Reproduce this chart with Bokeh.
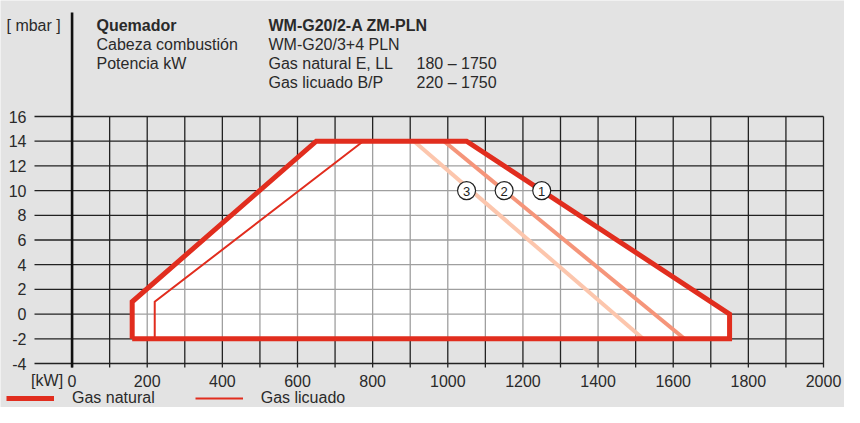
from bokeh.plotting import figure
from bokeh.models import Range1d, Legend, LegendItem
from bokeh.embed import file_html
from bokeh.resources import INLINE
from bokeh.core.properties import value

# ---------------- data ----------------
y_ticks = [-4, -2, 0, 2, 4, 6, 8, 10, 12, 14, 16]
y_tick_labels = ["-4", "-2", "0", "2", "4", "6", "8", "10", "12", "14", "16"]
x_ticks = list(range(0, 2001, 100))
x_label_ticks = [0, 200, 400, 600, 800, 1000, 1200, 1400, 1600, 1800, 2000]
x_tick_labels = ["0", "200", "400", "600", "800", "1000", "1200", "1400", "1600", "1800", "2000"]
x_unit = "[kW]"
y_unit = "[ mbar ]"

# Gas natural working field (thick outline)
nat_x = [160, 160, 650, 1050, 1750, 1750, 160]
nat_y = [-2, 1, 14, 14, 0, -2, -2]
# Gas licuado working field (thin outline, visible part)
lpg_x = [220, 220, 775]
lpg_y = [-2, 1, 14]
# combustion head settings 2 and 3 (setting 1 = right edge of natural outline)
line2_x = [990, 1630]
line2_y = [14, -2]
line3_x = [910, 1520]
line3_y = [14, -2]
marker_x = [1250, 1150, 1050]
marker_y = [10, 10, 10]
marker_text = ["1", "2", "3"]

header_keys = ["Quemador", "Cabeza combustión", "Potencia kW", ""]
header_vals = ["WM-G20/2-A ZM-PLN", "WM-G20/3+4 PLN", "Gas natural E, LL", "Gas licuado B/P"]
header_rngs = ["", "", "180 – 1750", "220 – 1750"]
legend_labels = ["Gas natural", "Gas licuado"]

# ---------------- style / layout ----------------
BG = "#e3e3e3"
RED = "#e12d1e"
SALMON = "#f5957a"
PEACH = "#fcc6ad"
GRID = "#222222"
TXT = "#2a2a2a"
FONT = "Liberation Sans"
FS = "16px"

W, H = 844, 407
GX_L, GX_R = 34, 823        # canvas x of -100 kW and 2000 kW
GY_T, GY_B = 116, 363       # canvas y of 16 mbar and -4 mbar
XMIN, XMAX = -100, 2000
KX = (GX_R - GX_L) / (XMAX - XMIN)
X0 = GX_L - XMIN * KX
KY = (GY_B - GY_T) / (y_ticks[-1] - y_ticks[0])


def dx(cx):
    return (cx - X0) / KX


def dy(cy):
    return y_ticks[0] + (GY_B - cy) / KY


p = figure(width=W, height=H, output_backend="svg", toolbar_location=None,
           x_range=Range1d(dx(0), dx(W)), y_range=Range1d(dy(H), dy(0)),
           x_axis_type=None, y_axis_type=None, min_border=0)
p.background_fill_color = BG
p.border_fill_color = BG
p.outline_line_color = None
p.grid.visible = False

# white field underlay
p.patch(nat_x, nat_y, fill_color="white", line_color=None)

# grid (+ small tick extension below the -4 line)
p.segment(x0=[XMIN] * len(y_ticks), y0=y_ticks, x1=[XMAX] * len(y_ticks), y1=y_ticks,
          line_color=GRID, line_width=1.3)
p.segment(x0=x_ticks, y0=[dy(GY_B + 4)] * len(x_ticks), x1=x_ticks, y1=[y_ticks[-1]] * len(x_ticks),
          line_color=GRID, line_width=1.3)

# veil over the grid inside the field
p.patch(nat_x, nat_y, fill_color="white", fill_alpha=0.57, line_color=None)

# vertical axis line at 0 reaching into the header
p.segment(x0=[0], y0=[dy(GY_B + 4)], x1=[0], y1=[dy(12)], line_color="#111111", line_width=2.6)

# tick labels
p.text(x=[XMIN] * len(y_ticks), y=y_ticks, text=y_tick_labels, x_offset=-8,
       text_align="right", text_baseline="middle", text_font=value(FONT),
       text_font_size=FS, text_color=TXT)
p.text(x=x_label_ticks, y=[y_ticks[0]] * len(x_label_ticks), text=x_tick_labels, y_offset=17,
       text_align="center", text_baseline="middle", text_font=value(FONT),
       text_font_size=FS, text_color=TXT)
p.text(x=[0], y=[y_ticks[0]], text=[x_unit], x_offset=-9, y_offset=17,
       text_align="right", text_baseline="middle", text_font=value(FONT),
       text_font_size=FS, text_color=TXT)

# setting lines
p.line(line3_x, line3_y, line_color=PEACH, line_width=4)
p.line(line2_x, line2_y, line_color=SALMON, line_width=4)
r_lpg = p.line(lpg_x, lpg_y, line_color=RED, line_width=2, line_join="miter")
r_nat = p.line(nat_x, nat_y, line_color=RED, line_width=5, line_join="miter")

# circled numbers
p.scatter(marker_x, marker_y, size=18, marker="circle", fill_color="white",
          line_color="#222222", line_width=1.2)
p.text(marker_x, marker_y, text=marker_text, text_align="center", text_baseline="middle",
       text_font=value(FONT), text_font_size="13px", text_color="#222222", y_offset=1)

# header
rows_cy = [25, 44, 63, 82]
col_cx = [96, 268, 416]


def header_text(cx, cy, txt, style):
    p.text(x=[dx(cx)], y=[dy(cy)], text=[txt], text_align="left", text_baseline="alphabetic",
           text_font=value(FONT), text_font_size=FS, text_color=TXT, text_font_style=style)


header_text(6, rows_cy[0], y_unit, "normal")
for i, cy in enumerate(rows_cy):
    style = "bold" if i == 0 else "normal"
    if header_keys[i]:
        header_text(col_cx[0], cy, header_keys[i], style)
    header_text(col_cx[1], cy, header_vals[i], style)
    if header_rngs[i]:
        header_text(col_cx[2], cy, header_rngs[i], "normal")

legend = Legend(items=[LegendItem(label=legend_labels[0], renderers=[r_nat]),
                       LegendItem(label=legend_labels[1], renderers=[r_lpg])],
                orientation="horizontal", location=(6, 0),
                glyph_width=48, glyph_height=16, label_height=16, label_standoff=18,
                spacing=40, padding=0, margin=0, border_line_color=None,
                background_fill_alpha=0, label_text_font=FONT,
                label_text_font_size=FS, label_text_color=TXT)
p.add_layout(legend)

open("out.html", "w").write(file_html(p, INLINE))
